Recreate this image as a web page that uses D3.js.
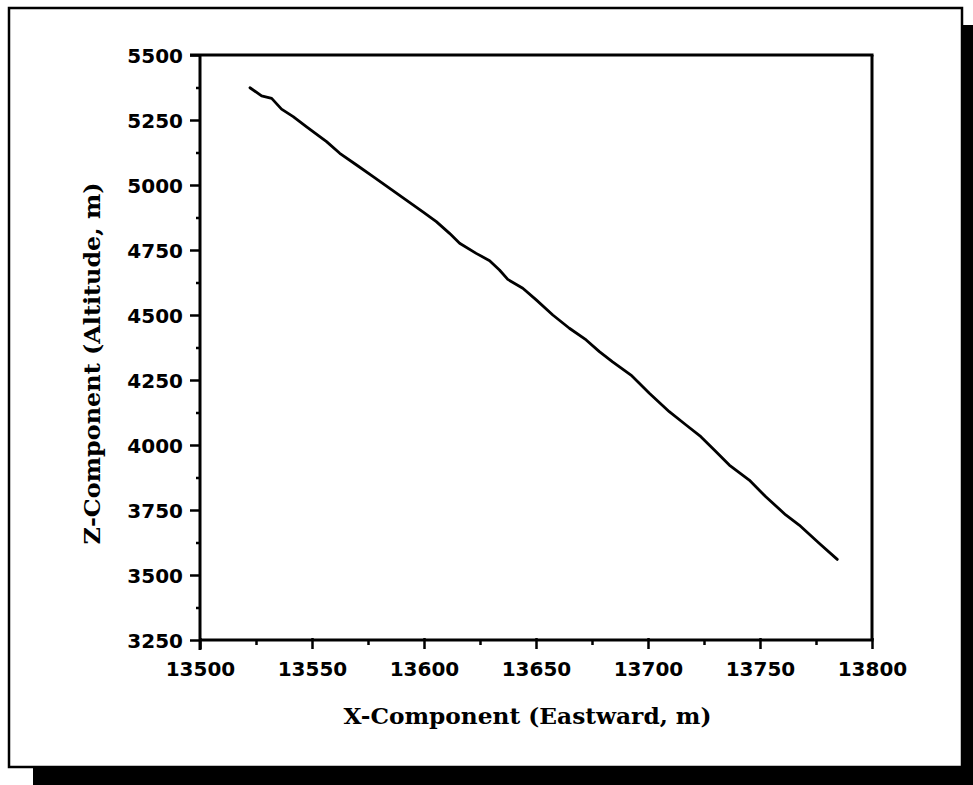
<!DOCTYPE html>
<html>
<head>
<meta charset="utf-8">
<script src="https://cdn.jsdelivr.net/npm/d3@7"></script>
<style>
  html, body { margin: 0; padding: 0; background: #fff; }
  svg { display: block; }
</style>
</head>
<body>
<svg id="chart" width="973" height="785"></svg>
<script>
// ---- data ----
const xEast = [13522.3, 13527.5, 13532.0, 13536.4, 13541.6, 13547.6, 13556.5, 13562.4, 13569.9, 13577.3,
  13584.7, 13592.1, 13599.5, 13605.5, 13611.4, 13615.9, 13623.3, 13629.3, 13633.7, 13637.4,
  13644.1, 13650.1, 13657.5, 13664.9, 13672.4, 13678.3, 13684.2, 13692.4, 13700.6, 13709.5,
  13717.0, 13723.6, 13729.6, 13736.3, 13745.2, 13752.6, 13761.5, 13767.5, 13776.4, 13784.5];
const zAlt = [5374, 5343, 5333, 5292, 5263, 5224, 5167, 5122, 5077, 5032,
  4987, 4942, 4897, 4859, 4814, 4776, 4737, 4709, 4673, 4637,
  4603, 4558, 4500, 4449, 4404, 4359, 4320, 4269, 4199, 4128,
  4077, 4032, 3981, 3923, 3865, 3801, 3731, 3692, 3622, 3560];
const xTicks = [13500, 13550, 13600, 13650, 13700, 13750, 13800];
const xMinorTicks = [13525, 13575, 13625, 13675, 13725, 13775];
const yTicks = [3250, 3500, 3750, 4000, 4250, 4500, 4750, 5000, 5250, 5500];
const yMinorTicks = [3375, 3625, 3875, 4125, 4375, 4625, 4875, 5125, 5375];
const xTitle = "X-Component (Eastward, m)";
const yTitle = "Z-Component (Altitude, m)";

// ---- layout ----
const svg = d3.select("#chart");
const L = 200, R = 872, T = 55, B = 640;

// shadow + frame
svg.append("rect").attr("x", 33).attr("y", 766).attr("width", 940).attr("height", 19).attr("fill", "#000");
svg.append("rect").attr("x", 961).attr("y", 25).attr("width", 12).attr("height", 760).attr("fill", "#000");
svg.append("rect").attr("x", 9).attr("y", 8).attr("width", 953).attr("height", 759)
  .attr("fill", "#fff").attr("stroke", "#000").attr("stroke-width", 2.5);

const x = d3.scaleLinear().domain([13500, 13800]).range([L, R]);
const y = d3.scaleLinear().domain([3250, 5500]).range([B, T]);

const tickFont = "'DejaVu Sans', sans-serif";

// plot box top/right
svg.append("line").attr("x1", L - 10).attr("x2", R + 1.5).attr("y1", T).attr("y2", T)
  .attr("stroke", "#000").attr("stroke-width", 3);
svg.append("line").attr("x1", R).attr("x2", R).attr("y1", T).attr("y2", B)
  .attr("stroke", "#000").attr("stroke-width", 3);

// axes
const xAxis = svg.append("g").attr("transform", `translate(0,${B})`)
  .call(d3.axisBottom(x).tickValues(xTicks).tickFormat(d3.format("d")).tickSize(9).tickPadding(13));
const xMinor = svg.append("g").attr("transform", `translate(0,${B})`)
  .call(d3.axisBottom(x).tickValues(xMinorTicks).tickFormat("").tickSize(5));
const yAxis = svg.append("g").attr("transform", `translate(${L},0)`)
  .call(d3.axisLeft(y).tickValues(yTicks).tickFormat(d3.format("d")).tickSize(10).tickPadding(7));
const yMinor = svg.append("g").attr("transform", `translate(${L},0)`)
  .call(d3.axisLeft(y).tickValues(yMinorTicks).tickFormat("").tickSize(4));

[xAxis, xMinor, yAxis, yMinor].forEach(g => {
  g.select(".domain").attr("stroke", "#000").attr("stroke-width", 3);
  g.selectAll(".tick line").attr("stroke", "#000").attr("stroke-width", 2.5);
  g.selectAll("text").attr("font-family", tickFont).attr("font-weight", "bold")
    .attr("font-size", 20).attr("fill", "#000");
});
xAxis.select(".domain").attr("d", `M${L - 1},0H${R + 1.5}`);
xMinor.select(".domain").remove();
yMinor.select(".domain").remove();
yAxis.select(".domain").attr("d", `M0,${T}V${B + 10}`);
xAxis.selectAll(".tick line").attr("y1", -2);
yAxis.selectAll(".tick text").attr("dy", "0.36em");

// data line
const line = d3.line().x((d, i) => x(xEast[i])).y((d, i) => y(zAlt[i])).curve(d3.curveLinear);
svg.append("path").datum(xEast).attr("d", line)
  .attr("fill", "none").attr("stroke", "#000").attr("stroke-width", 2.8)
  .attr("stroke-linejoin", "round").attr("stroke-linecap", "round");

// titles
const titleFont = "'DejaVu Serif', serif";
svg.append("text").attr("x", (343 + 712) / 2).attr("y", 724).attr("text-anchor", "middle")
  .attr("font-family", titleFont).attr("font-weight", "bold").attr("font-size", 23)
  .attr("textLength", 368).attr("lengthAdjust", "spacingAndGlyphs").text(xTitle);
svg.append("text").attr("transform", `translate(100,${(182 + 545) / 2}) rotate(-90)`)
  .attr("text-anchor", "middle")
  .attr("font-family", titleFont).attr("font-weight", "bold").attr("font-size", 23)
  .attr("textLength", 362).attr("lengthAdjust", "spacingAndGlyphs").text(yTitle);
</script>
</body>
</html>
